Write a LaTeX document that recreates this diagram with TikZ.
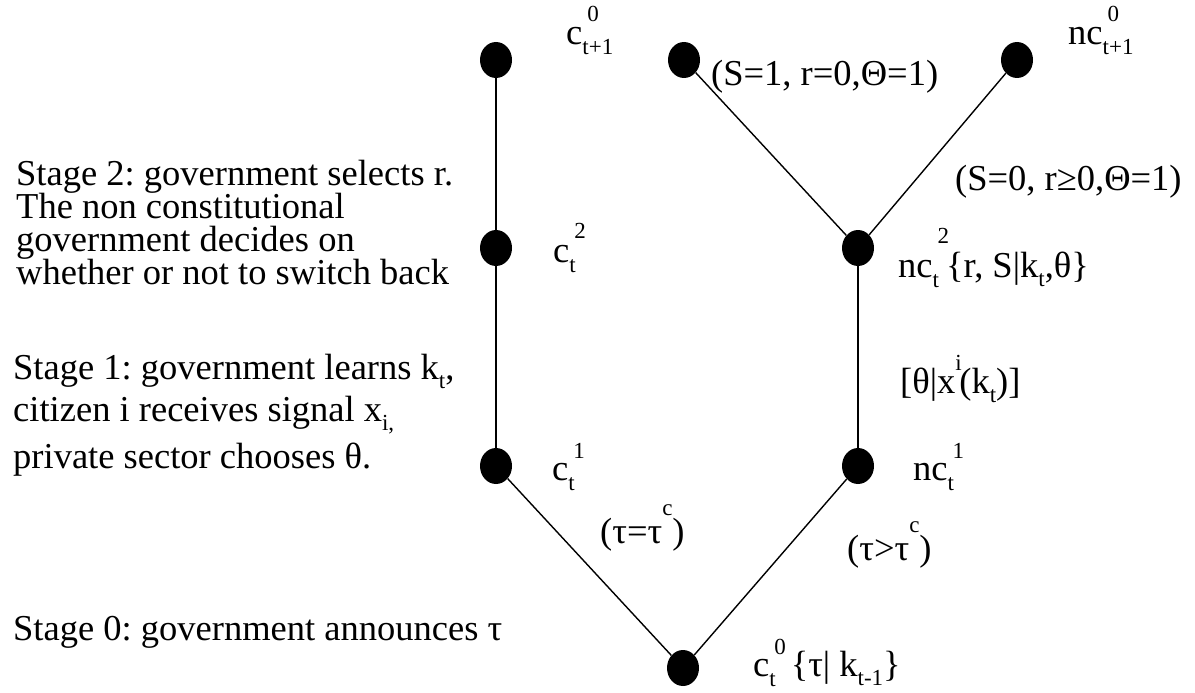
\documentclass[tikz,border=0pt]{standalone}
\usepackage{fontspec}
\setmainfont{Liberation Serif}
\usetikzlibrary{shapes.geometric}
\frenchspacing
\newcommand\subf{\fontsize{23}{23}\selectfont}
% base, superscript, subscript, raise of the superscript
\newcommand\stk[4][24pt]{#2\rlap{\raisebox{#1}{\kern5pt\subf #3}}\raisebox{-10pt}{\subf #4}}
\newcommand\lo[1]{\raisebox{-9pt}{\subf #1}}
\newcommand\hi[1]{\raisebox{28pt}{\subf #1}}
\tikzset{
  dot/.style={ellipse, fill=black, minimum width=32pt, minimum height=36pt, inner sep=0pt},
  lbl/.style={anchor=base west, inner sep=0pt, font=\fontsize{36.5}{36.5}\selectfont},
  conn/.style={line width=1.4pt, black}
}
\begin{document}
\begin{tikzpicture}[x=1pt,y=-1pt]
\useasboundingbox (0,0) rectangle (1195,693);
% tree nodes
\node[dot] (n1) at (496,60) {};
\node[dot] (n2) at (684,60) {};
\node[dot] (n3) at (1017,60) {};
\node[dot] (n4) at (496,248) {};
\node[dot] (n5) at (858,248) {};
\node[dot] (n6) at (496,466) {};
\node[dot] (n7) at (858,466) {};
\node[dot] (n0) at (683,668) {};
% connectors
\draw[conn] (n1) -- (n4);
\draw[conn] (n4) -- (n6);
\draw[conn] (n6) -- (n0);
\draw[conn] (n0) -- (n7);
\draw[conn] (n7) -- (n5);
\draw[conn] (n5) -- (n2);
\draw[conn] (n5) -- (n3);
% node labels
\node[lbl] (l1) at (566,45) {\stk[23pt]{c}{0}{t+1}};
\node[lbl] (l2) at (711,86) {(S=1, r=0,Θ=1)};
\node[lbl] (l3) at (1068,45) {\stk[23pt]{nc}{0}{t+1}};
\node[lbl] (l4) at (955,190) {(S=0, r≥0,Θ=1)};
\node[lbl] (l5) at (553,262) {\stk{c}{2}{t}};
\node[lbl] (l6) at (898,277) {\stk[34pt]{nc}{2}{t}\kern7pt\{r, S|k\lo{t},θ\}};
\node[lbl] (l7) at (900,393) {[θ|x\rlap{\raisebox{23pt}{\subf i}}\kern4pt(k\lo{t})]};
\node[lbl] (l8) at (552,480) {\stk[22pt]{c}{1}{t}};
\node[lbl] (l9) at (913,480) {\stk[22pt]{nc}{1}{t}};
\node[lbl] (l10) at (600,543) {(τ=τ\hi{c})};
\node[lbl] (l11) at (847,560) {(τ>τ\hi{c})};
\node[lbl] (l12) at (753,676) {\stk[22pt]{c}{0}{t}\kern15pt\{τ| k\lo{t-1}\}};
% stage descriptions
\node[lbl] (s2a) at (16,185) {Stage 2: government selects r.};
\node[lbl] (s2b) at (16,218) {The non constitutional};
\node[lbl] (s2c) at (16,251) {government decides on};
\node[lbl] (s2d) at (16,284) {whether or not to switch back};
\node[lbl] (s1a) at (13,379) {Stage 1: government learns k\lo{t},};
\node[lbl] (s1b) at (13,421) {citizen i receives signal x\lo{i,}};
\node[lbl] (s1c) at (13,468) {private sector chooses θ.};
\node[lbl] (s0) at (13,640) {Stage 0: government announces τ};
\end{tikzpicture}
\end{document}
